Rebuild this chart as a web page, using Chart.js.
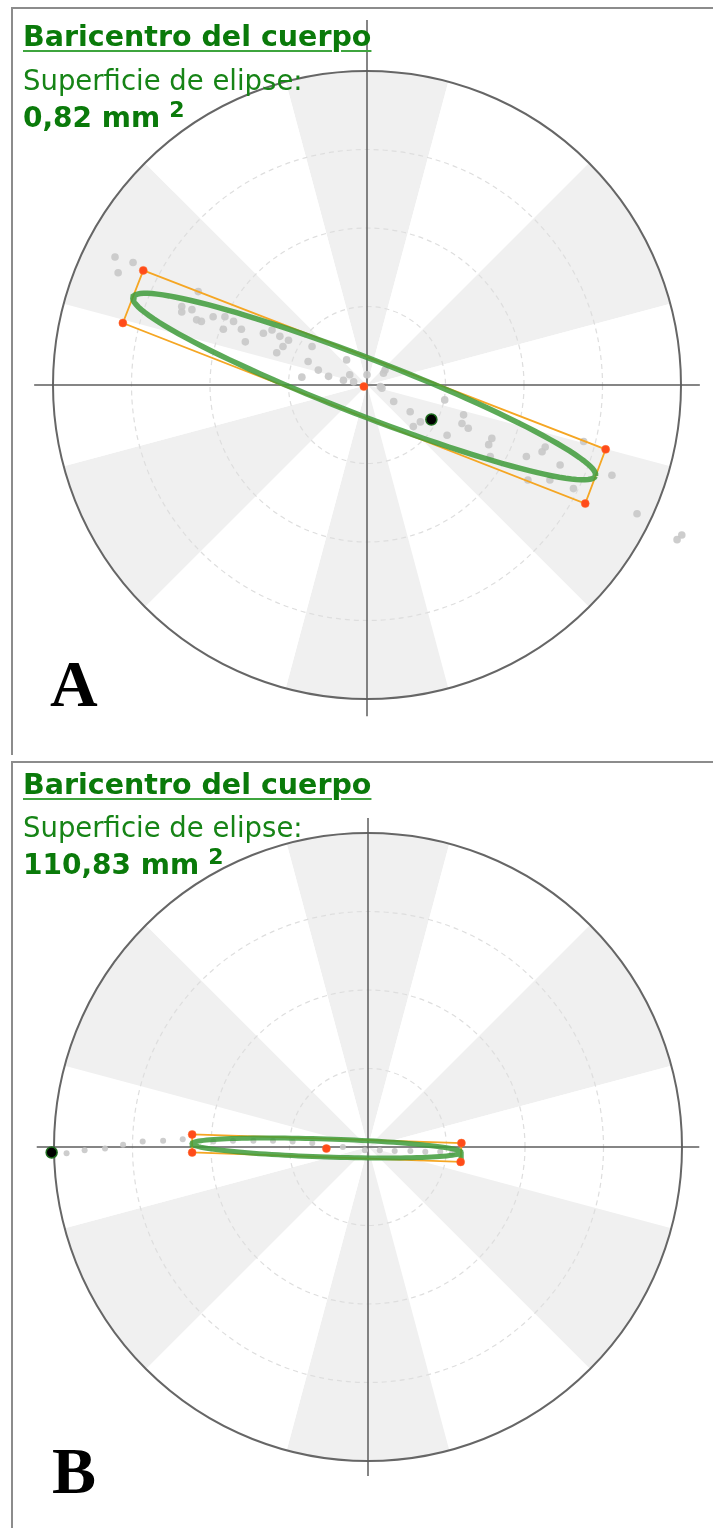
<!DOCTYPE html>
<html>
<head>
<meta charset="utf-8">
<title>Baricentro del cuerpo</title>
<script src="https://cdn.jsdelivr.net/npm/chart.js@4.4.0/dist/chart.umd.min.js"></script>
<style>
    html, body { margin: 0; padding: 0; background: #fff; }
    body { width: 713px; height: 1528px; position: relative; overflow: hidden; }
    .frame { position: absolute; left: 11px; width: 710px; border-top: 2px solid #8c8c8c; border-left: 2px solid #8c8c8c; }
    .layer { position: absolute; }
    .title, .subTitle, .area { position: absolute; left: 23px; white-space: nowrap; font-family: "DejaVu Sans"; }
    .title { font-weight: bold; font-size: 28.5px; line-height: 28px; color: #0a7a0a;
        text-decoration: underline; text-decoration-color: #3ea53e; text-decoration-thickness: 2px; text-underline-offset: 4px; }
    .subTitle { font-size: 27.5px; line-height: 28px; color: #168416; }
    .area { font-weight: bold; font-size: 28px; line-height: 28px; color: #0a7a0a; }
    .area span { position: relative; top: -10px; font-size: 22px; margin-left: 9px; }
    .panelLetter { position: absolute; font-family: "Liberation Serif"; font-weight: bold; font-size: 66px; line-height: 66px; color: #000; }
</style>
</head>
<body>

<div class="frame" style="top: 7px; height: 746px;"></div>
<div class="frame" style="top: 761px; height: 780px;"></div>

<canvas id="targetA" class="layer" width="688" height="718" style="left: 23px; top: 11px;"></canvas>
<canvas id="swayA" class="layer" width="688" height="718" style="left: 23px; top: 11px;"></canvas>

<canvas id="targetB" class="layer" width="688" height="718" style="left: 24px; top: 773px;"></canvas>
<canvas id="swayB" class="layer" width="688" height="718" style="left: 24px; top: 773px;"></canvas>

<div class="title" style="top: 23px;">Baricentro del cuerpo</div>
<div class="subTitle" style="top: 66px;">Superficie de elipse:</div>
<div class="area" style="top: 104px;">0,82 mm<span>2</span></div>
<div class="panelLetter" style="left: 50px; top: 651px;">A</div>

<div class="title" style="top: 771px;">Baricentro del cuerpo</div>
<div class="subTitle" style="top: 813px;">Superficie de elipse:</div>
<div class="area" style="top: 851px;">110,83 mm<span>2</span></div>
<div class="panelLetter" style="left: 52px; top: 1438px;">B</div>

<script>
// target background: 12 equal slices, every other one shaded, rings at 1..4
const sectorLabels = ["1", "2", "3", "4", "5", "6", "7", "8", "9", "10", "11", "12"];
const sectorValues = [4, 4, 4, 4, 4, 4, 4, 4, 4, 4, 4, 4];

// panel A - sway samples (x, y), ellipse box corners, centre and baricentre
const swayA = [
    [-3.21, 1.63], [-2.98, 1.56], [-3.17, 1.43], [-2.15, 1.19], [-2.36, 1.00], [-2.36, 0.93],
    [-2.23, 0.96], [-2.17, 0.83], [-2.11, 0.81], [-1.96, 0.87], [-1.81, 0.87], [-1.83, 0.71],
    [-1.70, 0.81], [-1.60, 0.71], [-1.55, 0.55], [-1.32, 0.66], [-1.21, 0.70], [-1.11, 0.62],
    [-1.00, 0.57], [-1.07, 0.49], [-1.15, 0.41], [-0.70, 0.49], [-0.75, 0.30], [-0.62, 0.19],
    [-0.49, 0.11], [-0.83, 0.10], [-0.26, 0.32], [-0.22, 0.13], [-0.30, 0.06], [-0.17, 0.04],
    [0.00, 0.13], [0.17, -0.02], [0.21, 0.15], [0.23, 0.19], [0.19, -0.04], [0.34, -0.21],
    [0.55, -0.34], [0.68, -0.47], [0.59, -0.53], [0.99, -0.19], [1.02, -0.64], [1.23, -0.38],
    [1.21, -0.49], [1.29, -0.55], [1.59, -0.68], [1.55, -0.76], [1.57, -0.91], [2.03, -0.91],
    [2.27, -0.79], [2.23, -0.85], [2.46, -1.02], [2.33, -1.21], [2.05, -1.21], [2.63, -1.32],
    [2.76, -0.72], [3.12, -1.15], [3.44, -1.64], [3.95, -1.97], [4.01, -1.91]
];
const boxA = [[-2.85, 1.46], [3.04, -0.82], [2.78, -1.51], [-3.11, 0.79]];
const centreA = [-0.04, -0.02];
const baryA = [0.82, -0.44];
const axisA_x = [-4.24, 4.24];
const axisA_y = [-4.22, 4.65];

// panel B
const swayB = [
    [-3.84, -0.08], [-3.61, -0.04], [-3.35, -0.02], [-3.12, 0.03], [-2.87, 0.07], [-2.61, 0.08],
    [-2.36, 0.10], [-1.97, 0.07], [-1.72, 0.08], [-1.46, 0.08], [-1.21, 0.08], [-0.96, 0.07],
    [-0.71, 0.05], [-0.32, 0.00], [-0.04, -0.04], [0.15, -0.04], [0.34, -0.05], [0.54, -0.05],
    [0.73, -0.06], [0.92, -0.06], [1.07, -0.08]
];
const boxB = [[-2.24, 0.16], [1.19, 0.05], [1.18, -0.19], [-2.24, -0.07]];
const centreB = [-0.53, -0.02];
const baryB = [-4.03, -0.07];
const axisB_x = [-4.22, 4.22];
const axisB_y = [-4.19, 4.19];

const pad = {left: 30, right: 30, top: 60, bottom: 30};

function makeTarget(canvasId) {
    const colours = sectorValues.map((v, i) => i % 2 === 0 ? "#f0f0f0" : "#ffffff");
    return new Chart(document.getElementById(canvasId), {
        type: "polarArea",
        data: {
            labels: sectorLabels,
            datasets: [{
                data: sectorValues,
                backgroundColor: colours,
                borderWidth: 0
            }]
        },
        options: {
            responsive: false,
            animation: false,
            events: [],
            layout: {padding: pad},
            plugins: {legend: {display: false}, tooltip: {enabled: false}},
            scales: {
                r: {
                    min: 0,
                    max: 4,
                    startAngle: -15,
                    ticks: {display: false, stepSize: 1},
                    angleLines: {display: false},
                    pointLabels: {display: false},
                    grid: {
                        z: 1,
                        color: ctx => ctx.tick && ctx.tick.value === 4 ? "#666666" : "#dedede",
                        lineWidth: ctx => ctx.tick && ctx.tick.value === 4 ? 2 : 1.2
                    },
                    border: {
                        dash: ctx => ctx.tick && ctx.tick.value === 4 ? [] : [5, 4]
                    }
                }
            }
        }
    });
}

function toPoints(list) {
    return list.map(p => ({x: p[0], y: p[1]}));
}

// ellipse inscribed in the (box) parallelogram given by its four corners
function inscribedEllipse(box) {
    const cx = (box[0][0] + box[1][0] + box[2][0] + box[3][0]) / 4;
    const cy = (box[0][1] + box[1][1] + box[2][1] + box[3][1]) / 4;
    const ux = (box[1][0] - box[0][0]) / 2, uy = (box[1][1] - box[0][1]) / 2;
    const vx = (box[3][0] - box[0][0]) / 2, vy = (box[3][1] - box[0][1]) / 2;
    const pts = [];
    for (let deg = 0; deg <= 360; deg += 3) {
        const t = deg * Math.PI / 180;
        pts.push({x: cx + ux * Math.cos(t) + vx * Math.sin(t), y: cy + uy * Math.cos(t) + vy * Math.sin(t)});
    }
    return pts;
}

function makeSway(canvasId, sway, box, centre, bary, axisX, axisY, dotSize, ringWidth) {
    const boxLine = toPoints(box.concat([box[0]]));
    const datasets = [{
        // baricentre
        data: toPoints([bary]),
        pointRadius: 5.5,
        pointBackgroundColor: "#000",
        pointBorderColor: "#1d6b1d",
        pointBorderWidth: 1.5
    }, {
        // ellipse centre + box corners
        data: toPoints([centre].concat(box)),
        pointRadius: 4,
        pointBackgroundColor: "#ff4b1a",
        pointBorderColor: "#ff6a2a",
        pointBorderWidth: 0.5
    }, {
        data: inscribedEllipse(box),
        showLine: true,
        borderColor: "rgba(62, 155, 58, 0.85)",
        borderWidth: ringWidth,
        pointRadius: 0,
        tension: 0
    }, {
        data: boxLine,
        showLine: true,
        borderColor: "#f5a623",
        borderWidth: 1.8,
        pointRadius: 0,
        tension: 0
    }, {
        data: toPoints(sway),
        pointRadius: dotSize,
        pointBackgroundColor: "rgba(200, 200, 200, 0.9)",
        pointBorderWidth: 0
    }, {
        data: [{x: axisX[0], y: 0}, {x: axisX[1], y: 0}],
        showLine: true,
        borderColor: "#5c5c5c",
        borderWidth: 1.5,
        pointStyle: "triangle",
        pointRotation: [270, 90],
        pointRadius: 4,
        pointBackgroundColor: "#5c5c5c",
        pointBorderColor: "#5c5c5c"
    }, {
        data: [{x: 0, y: axisY[0]}, {x: 0, y: axisY[1]}],
        showLine: true,
        borderColor: "#5c5c5c",
        borderWidth: 1.5,
        pointStyle: "triangle",
        pointRotation: [180, 0],
        pointRadius: 4,
        pointBackgroundColor: "#5c5c5c",
        pointBorderColor: "#5c5c5c"
    }];
    datasets.forEach(d => d.clip = false);

    return new Chart(document.getElementById(canvasId), {
        type: "scatter",
        data: {datasets: datasets},
        options: {
            responsive: false,
            animation: false,
            events: [],
            layout: {padding: pad},
            plugins: {legend: {display: false}, tooltip: {enabled: false}},
            scales: {
                x: {type: "linear", min: -4, max: 4, display: false},
                y: {type: "linear", min: -4, max: 4, display: false}
            }
        }
    });
}

makeTarget("targetA");
makeSway("swayA", swayA, boxA, centreA, baryA, axisA_x, axisA_y, 3.8, 5.5);

makeTarget("targetB");
makeSway("swayB", swayB, boxB, centreB, baryB, axisB_x, axisB_y, 3, 5);
</script>
</body>
</html>
